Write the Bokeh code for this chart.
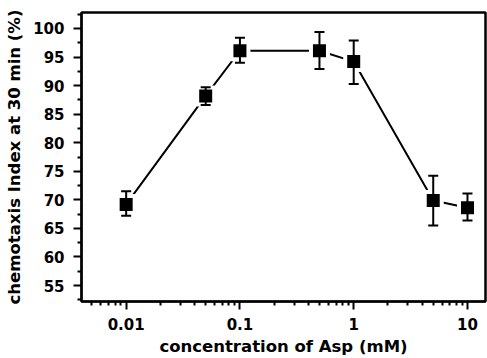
from bokeh.plotting import figure
from bokeh.models import Range1d, FixedTicker, Whisker, TeeHead, ColumnDataSource
from bokeh.embed import file_html
from bokeh.resources import INLINE

# data (concentration in mM, chemotaxis index %)
conc = [0.01, 0.05, 0.1, 0.5, 1, 5, 10]
index_mean = [69.2, 88.2, 96.1, 96.1, 94.2, 69.9, 68.6]
index_upper = [71.5, 89.7, 98.4, 99.4, 97.9, 74.2, 71.1]
index_lower = [67.2, 86.6, 94.0, 92.9, 90.3, 65.5, 66.4]

y_ticks = [55, 60, 65, 70, 75, 80, 85, 90, 95, 100]
y_minor = [52.5, 57.5, 62.5, 67.5, 72.5, 77.5, 82.5, 87.5, 92.5, 97.5, 102.5]
x_ticks = [0.01, 0.1, 1, 10]
x_minor = [0.005, 0.006, 0.007, 0.008, 0.009,
           0.02, 0.03, 0.04, 0.05, 0.06, 0.07, 0.08, 0.09,
           0.2, 0.3, 0.4, 0.5, 0.6, 0.7, 0.8, 0.9,
           2, 3, 4, 5, 6, 7, 8, 9]
x_labels = {0.01: "0.01", 0.1: "0.1", 1: "1", 10: "10"}

src = ColumnDataSource(dict(x=conc, y=index_mean, up=index_upper, lo=index_lower))

p = figure(width=487, height=358, x_axis_type="log",
           x_range=Range1d(0.00405, 14.4), y_range=Range1d(52.2, 102.8),
           output_backend="svg", toolbar_location=None,
           min_border_left=81, min_border_right=2, min_border_top=12, min_border_bottom=55)
p.grid.visible = False
p.outline_line_color = "black"
p.outline_line_width = 2.5
p.background_fill_color = "white"
p.border_fill_color = "white"

font = "DejaVu Sans"
for ax, ticks, minor in ((p.xaxis[0], x_ticks, x_minor), (p.yaxis[0], y_ticks, y_minor)):
    ax.ticker = FixedTicker(ticks=ticks, minor_ticks=minor)
    ax.axis_line_width = 2
    ax.major_tick_line_width = 2
    ax.minor_tick_line_width = 2
    ax.major_tick_out = 8
    ax.major_tick_in = 0
    ax.minor_tick_out = 4
    ax.minor_tick_in = 0
    ax.major_label_text_font = font
    ax.major_label_text_font_style = "bold"
    ax.major_label_text_font_size = "15px"
    ax.major_label_text_color = "black"
    ax.axis_label_text_font = font
    ax.axis_label_text_font_style = "bold"
    ax.axis_label_text_font_size = "16.5px"
    ax.axis_label_text_color = "black"

p.xaxis[0].major_label_overrides = x_labels
p.xaxis[0].major_label_standoff = 8
p.yaxis[0].major_label_standoff = 9
p.xaxis[0].axis_label = "concentration of Asp (mM)"
p.yaxis[0].axis_label = "chemotaxis Index at 30 min (%)"
p.xaxis[0].axis_label_standoff = 4
p.yaxis[0].axis_label_standoff = 6

p.line("x", "y", source=src, line_color="black", line_width=2)
p.scatter("x", "y", source=src, marker="square", size=17,
          fill_color="black", line_color="white", line_width=4)
w = Whisker(base="x", upper="up", lower="lo", source=src, level="annotation",
            line_color="black", line_width=2,
            upper_head=TeeHead(size=10, line_width=2, line_color="black"),
            lower_head=TeeHead(size=10, line_width=2, line_color="black"))
p.add_layout(w)

open("out.html", "w").write(file_html(p, INLINE))
